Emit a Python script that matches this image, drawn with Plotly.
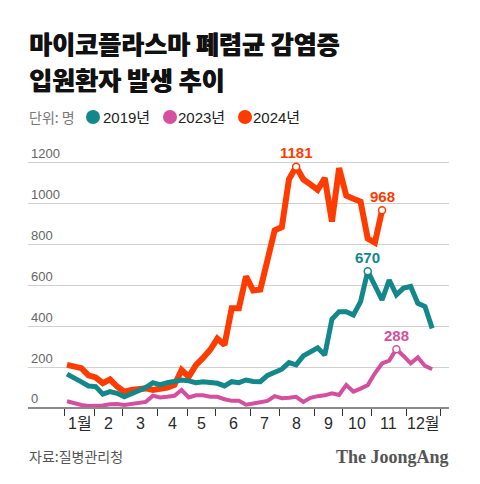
import plotly.graph_objects as go

# ---------------- data (weekly) ----------------
weeks = list(range(1, 53))

y2019 = [166, 150, 128, 108, 105, 68, 80, 72, 55, 70,
         85, 100, 124, 113, 124, 129, 137, 133, 124, 129,
         127, 121, 108, 129, 124, 137, 130, 129, 160, 175,
         190, 222, 211, 255, 274, 295, 260, 435, 472, 472,
         456, 521, 670, 600, 529, 627, 554, 587, 595, 513,
         497, 390]

y2023 = [33, 22, 15, 10, 10, 12, 18, 20, 15, 20,
         25, 30, 60, 52, 55, 60, 88, 52, 62, 62,
         55, 55, 43, 35, 35, 16, 22, 30, 35, 58,
         48, 50, 55, 30, 50, 58, 62, 72, 64, 113,
         80, 95, 112, 170, 218, 232, 288, 255, 219, 248,
         206, 190]

y2024 = [211, 204, 195, 160, 150, 122, 140, 105, 80, 88,
         95, 96, 88, 92, 100, 113, 186, 153, 210, 245,
         285, 340, 309, 488, 488, 645, 575, 580, 740, 870,
         886, 1120, 1181, 1120, 1095, 1068, 1126, 913, 1175, 1040,
         1025, 1011, 830, 810, 968]

series_names = ["2019년", "2023년", "2024년"]
series_colors = ["#13878a", "#d4509f", "#ff3c00"]

month_labels = ["1월", "2", "3", "4", "5", "6", "7", "8", "9", "10", "11", "12월"]
month_bounds = [0.7, 4.8, 8.8, 13.7, 17.8, 21.8, 26.6, 30.7, 35.5, 39.5, 43.5, 48.4, 53.1]
y_ticks = [0, 200, 400, 600, 800, 1000, 1200]

title_lines = ["마이코플라스마 폐렴균 감염증", "입원환자 발생 추이"]
unit_text = "단위: 명"
source_text = "자료:질병관리청"
logo_text = "The JoongAng"

# ---------------- layout geometry ----------------
W, H = 480, 484
PL, PR, PT, PB = 28, 449, 140, 412          # plot area in pixels
YMIN, YMAX = -19.6, 1312.6
XMIN, XMAX = -4.45, 54.35


def px(xp):
    return (xp - PL) / (PR - PL)


def py(yp):
    return (PB - yp) / (PB - PT)


fig = go.Figure()

data = [(y2019, 0), (y2023, 1), (y2024, 2)]
widths = [5, 4, 6]
# draw order: pink, red, teal
for idx in [1, 2, 0]:
    vals = data[idx][0]
    fig.add_trace(go.Scatter(
        x=weeks[:len(vals)], y=vals, mode="lines",
        line=dict(color=series_colors[idx], width=widths[idx], shape="linear"),
        name=series_names[idx], showlegend=False, hoverinfo="skip",
    ))

# highlighted points: maxima, plus last point of 2024
marks = []
for idx in range(3):
    vals = data[idx][0]
    i = vals.index(max(vals))
    marks.append((weeks[i], vals[i], idx))
marks.append((weeks[len(y2024) - 1], y2024[-1], 2))

for wx, wy, idx in marks:
    fig.add_trace(go.Scatter(
        x=[wx], y=[wy], mode="markers", showlegend=False, hoverinfo="skip",
        marker=dict(size=7, color="white", line=dict(color=series_colors[idx], width=1.5)),
        cliponaxis=False,
    ))
    fig.add_annotation(
        x=wx, y=wy, xref="x", yref="y", text=f"<b>{wy}</b>", showarrow=False,
        yshift=14, font=dict(family="Liberation Sans, Arial", size=15, color=series_colors[idx]),
    )

# month labels centered between boundaries
for i, lab in enumerate(month_labels):
    fig.add_annotation(
        x=(month_bounds[i] + month_bounds[i + 1]) / 2, xref="x",
        y=py(423), yref="paper", yanchor="middle", text=lab, showarrow=False,
        font=dict(family="Liberation Sans, Noto Sans CJK KR", size=16, color="#2a2a2a"),
    )

# title
for line, ycen in zip(title_lines, [43, 78.5]):
    fig.add_annotation(
        x=px(27), y=py(ycen), xref="paper", yref="paper", xanchor="left", yanchor="middle",
        text=line, showarrow=False,
        font=dict(family="Noto Sans CJK KR", size=25, color="#111111", weight=900,
                  shadow="0.6px 0 0 #111111"),
    )

# unit + legend
fig.add_annotation(
    x=px(27), y=py(117), xref="paper", yref="paper", xanchor="left", yanchor="middle",
    text=unit_text, showarrow=False,
    font=dict(family="Noto Sans CJK KR", size=14, color="#777777"),
)
legend_pos = [(93, 101), (170, 176), (245, 251)]
for (cx, tx), name, col in zip(legend_pos, series_names, series_colors):
    fig.add_shape(type="circle", xref="paper", yref="paper",
                  x0=px(cx - 7), x1=px(cx + 7), y0=py(117 + 7), y1=py(117 - 7),
                  fillcolor=col, line=dict(width=0))
    fig.add_annotation(
        x=px(tx), y=py(117), xref="paper", yref="paper", xanchor="left", yanchor="middle",
        text=name, showarrow=False,
        font=dict(family="Liberation Sans, Noto Sans CJK KR", size=15, color="#222222"),
    )

# source + logo
fig.add_annotation(
    x=px(27), y=py(456), xref="paper", yref="paper", xanchor="left", yanchor="middle",
    text=source_text, showarrow=False,
    font=dict(family="Noto Sans CJK KR", size=14, color="#555555"),
)
fig.add_annotation(
    x=px(451), y=py(457), xref="paper", yref="paper", xanchor="right", yanchor="middle",
    text=f"<b>{logo_text}</b>", showarrow=False,
    font=dict(family="Liberation Serif, DejaVu Serif", size=18, color="#555555"),
)

fig.update_layout(
    width=W, height=H,
    margin=dict(l=PL, r=W - PR, t=PT, b=H - PB, pad=0),
    paper_bgcolor="white", plot_bgcolor="white",
    showlegend=False,
    xaxis=dict(
        range=[XMIN, XMAX], showgrid=False, zeroline=False,
        tickmode="array", tickvals=month_bounds, ticktext=[""] * len(month_bounds),
        ticks="outside", ticklen=7, tickwidth=1.3, tickcolor="#333333",
        showline=True, linecolor="#8a8a8a", linewidth=2,
        anchor="free", position=-YMIN / (YMAX - YMIN),
        showticklabels=False, fixedrange=True,
    ),
    yaxis=dict(
        range=[YMIN, YMAX], tickmode="array", tickvals=y_ticks,
        ticktext=[str(v) for v in y_ticks],
        showgrid=True, gridcolor="#d0d0d0", gridwidth=1, zeroline=False,
        ticks="", ticklabelposition="inside top", showline=False,
        tickfont=dict(family="Liberation Sans, Arial", size=13, color="#666666"),
        fixedrange=True,
    ),
)

fig.write_html(
    "out.html",
    config={"displayModeBar": False},
    post_script="document.body.style.margin='0';document.body.style.overflow='hidden';",
)
